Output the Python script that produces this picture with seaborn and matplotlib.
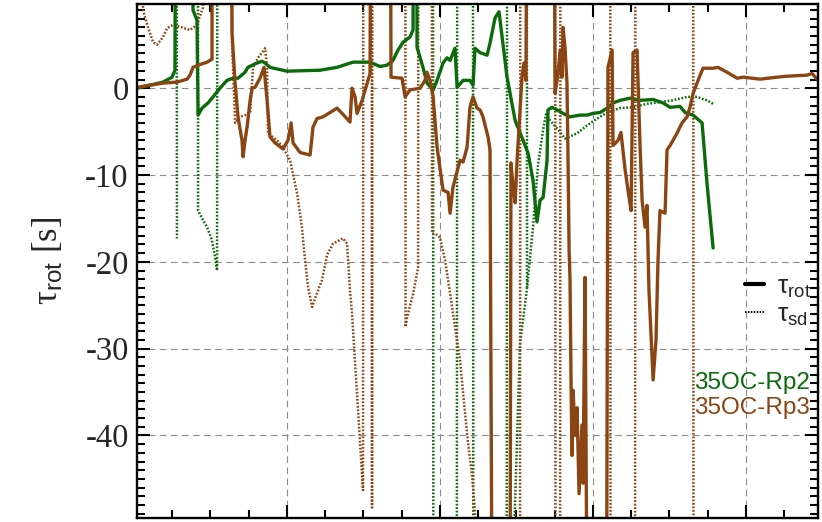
import numpy as np
import pandas as pd
import matplotlib
matplotlib.use("Agg")
import matplotlib.pyplot as plt
from matplotlib.lines import Line2D
from matplotlib.ticker import MultipleLocator
import seaborn as sns

nan = np.nan

# (time, tau [s]); +-60 marks a branch running off scale,
# (nan, nan) breaks the line
rp2_rot = [
    (0.000, 0.0), (0.085, 0.35), (0.170, 0.7), (0.229, 1.27), (0.248, 2.07),
    (0.258, 60), (0.340, 60), (0.366, 9.0), (0.392, 7.8), (0.399, -3.1),
    (0.425, -2.3), (0.464, -1.7), (0.497, -1.0), (0.542, 0.0), (0.588, 0.9),
    (0.627, 1.15), (0.660, 1.15), (0.706, 1.84), (0.725, 2.4), (0.784, 2.9),
    (0.817, 3.1), (0.837, 2.9), (0.869, 2.4), (0.980, 1.96), (1.196, 2.07),
    (1.307, 2.4), (1.412, 3.0), (1.523, 3.0), (1.588, 2.5), (1.634, 2.65),
    (1.673, 3.2), (1.706, 4.4), (1.739, 5.3), (1.784, 5.9), (1.804, 6.7),
    (1.812, 60), (1.824, 60), (1.830, 4.7), (1.869, 2.4), (1.895, 0.6),
    (1.935, -0.2), (1.961, 0.9), (2.000, 2.9), (2.026, 3.5), (2.046, 3.2),
    (2.078, 4.6), (2.092, 0.1), (2.131, 0.9), (2.176, 0.9), (2.196, 0.35),
    (2.209, 4.6), (2.242, 4.1), (2.288, 3.8), (2.307, 5.2), (2.340, 8.1),
    (2.366, 8.8), (2.386, 5.9), (2.418, 1.3), (2.471, -3.7), (2.523, -6.0),
    (2.556, -7.5), (2.588, -10.6), (2.614, -15.4), (2.634, -12.9), (2.654, -12.6),
    (2.680, -8.3), (2.686, -2.5), (2.712, -2.2), (2.745, -2.5), (2.784, -2.9),
    (2.830, -3.3), (2.895, -3.1), (2.941, -3.1), (2.980, -2.9), (3.026, -2.8),
    (3.072, -2.3), (3.111, -1.7), (3.157, -1.4), (3.222, -1.15), (3.288, -1.4),
    (3.373, -1.3), (3.438, -1.7), (3.484, -2.2), (3.549, -2.1), (3.582, -2.8),
    (3.634, -3.1), (3.693, -4.0), (3.725, -10.9), (3.765, -18.4),
]

rp2_sd = [
    (0.258, 60), (0.261, -17.3), (nan, nan),
    (0.397, 60), (0.399, -14.1), (0.425, -15.0), (0.458, -16.0), (0.490, -17.5),
    (0.510, -19.5), (0.523, -21.0), (0.526, 60), (nan, nan),
    (1.933, 60), (1.937, -60), (2.090, -60), (2.094, 60), (2.194, 60),
    (2.198, -60), (2.416, -60), (2.420, 60), (nan, nan),
    (2.547, 60), (2.549, -23.0), (nan, nan),
    (2.458, -55), (2.503, -29.5), (2.549, -23.0), (2.588, -16.0), (2.621, -8.8),
    (2.654, -4.8), (2.673, -3.0), (2.699, -3.7), (2.739, -4.5), (2.797, -5.8),
    (2.876, -5.2), (2.941, -4.3), (3.007, -3.5), (3.072, -2.8), (3.157, -2.3),
    (3.242, -2.2), (3.333, -1.8), (3.418, -1.6), (3.503, -1.4), (3.595, -1.0),
    (3.660, -1.0), (3.725, -1.4), (3.765, -1.8),
]

rp3_rot = [
    (0.000, 0.1), (0.085, 0.35), (0.170, 0.58), (0.261, 0.7), (0.327, 1.04),
    (0.346, 1.5), (0.366, 2.4), (0.399, 2.65), (0.458, 3.0), (0.490, 3.35),
    (0.493, 60), (0.605, 60), (0.621, 6.3), (0.641, 0.6), (0.660, -3.3),
    (0.686, -6.0), (0.693, -7.9), (0.706, -6.0), (0.719, -4.5), (0.739, -1.4),
    (0.752, 0.0), (0.771, 0.1), (0.804, 1.15), (0.830, 2.4), (0.850, -1.4),
    (0.869, -5.6), (0.902, -6.3), (0.954, -7.0), (0.987, -6.0), (1.007, -4.0),
    (1.020, -6.3), (1.065, -7.4), (1.131, -7.7), (1.150, -4.5), (1.176, -3.5),
    (1.216, -3.3), (1.261, -2.8), (1.307, -2.3), (1.340, -2.9), (1.392, -3.9),
    (1.405, 0.0), (1.425, -1.0), (1.438, -2.9), (1.471, -1.4), (1.523, 1.7),
    (1.533, 60), (1.650, 60), (1.660, 1.27), (1.732, 1.15), (1.752, -1.0),
    (1.784, -0.2), (1.850, 0.0), (1.882, 0.9), (1.895, 1.84), (1.915, 0.9),
    (1.935, -1.0), (1.961, -6.8), (2.000, -11.75), (2.033, -12.0), (2.046, -14.4),
    (2.065, -11.4), (2.111, -8.3), (2.131, -8.5), (2.157, -6.8), (2.176, -2.2),
    (2.196, -1.0), (2.222, -2.3), (2.242, -2.5), (2.261, -3.3), (2.294, -5.6),
    (2.307, -7.1), (2.320, -60), (2.438, -60), (2.444, -8.6), (2.458, -11.4),
    (2.471, -13.2), (2.484, -8.3), (2.503, -2.5), (2.516, 1.27), (2.529, 2.9),
    (2.542, 0.9), (2.556, 60), (2.719, 60), (2.732, -0.6), (2.752, 1.7),
    (2.765, 4.4), (2.778, 1.27), (2.784, 7.0), (2.797, 4.7), (2.810, 0.6),
    (2.817, -8.3), (2.824, -18.7), (2.830, -22.1), (2.837, -34.4), (2.843, -42.3),
    (2.850, -34.8), (2.863, -40.0), (2.876, -36.8), (2.889, -46.7), (2.908, -38.8),
    (2.915, -45.5), (2.928, -21.8), (2.941, -60), (3.069, -60), (3.078, 2.4),
    (3.105, 4.4), (3.111, -6.6), (3.144, -6.0), (3.163, -5.1), (3.190, -9.4),
    (3.209, -11.75), (3.229, -14.1), (3.242, 4.1), (3.268, 4.4), (3.288, -6.8),
    (3.301, -12.9), (3.320, -16.0), (3.333, -13.5), (3.346, -23.3), (3.373, -33.6),
    (3.392, -29.0), (3.405, -19.8), (3.418, -14.1), (3.451, -14.4), (3.464, -7.1),
    (3.484, -6.6), (3.529, -5.2), (3.562, -4.0), (3.595, -3.3), (3.614, -2.2),
    (3.634, -0.6), (3.667, 0.9), (3.699, 2.3), (3.765, 2.3), (3.797, 2.4),
    (3.856, 1.84), (3.922, 1.15), (3.961, 1.27), (4.072, 1.04), (4.183, 1.27),
    (4.248, 1.38), (4.379, 1.5), (4.412, 1.7), (4.451, 0.9),
]

rp3_sd = [
    (0.020, 60), (0.039, 9.0), (0.072, 7.0), (0.105, 5.3), (0.131, 5.0),
    (0.170, 5.9), (0.196, 6.9), (0.235, 7.3), (0.294, 7.0), (0.346, 6.7),
    (0.392, 7.3), (0.431, 9.3), (0.444, 60), (0.614, 60), (0.621, 5.2),
    (0.641, -4.0), (0.673, -3.3), (0.739, -2.9), (0.758, 2.4), (0.791, 3.5),
    (0.837, 4.6), (0.850, 2.4), (0.856, -5.2), (0.915, -6.0), (0.954, -6.8),
    (1.000, -8.3), (1.046, -12.1), (1.078, -16.0), (1.098, -19.8), (1.118, -22.9),
    (1.144, -25.2), (1.176, -23.6), (1.209, -22.1), (1.242, -19.2), (1.281, -17.9),
    (1.346, -17.3), (1.373, -17.9), (1.392, -23.3), (1.405, -25.9), (1.477, -46.3),
    (1.480, 60), (1.533, 60), (1.536, -48.3), (1.539, 60), (1.752, 60),
    (1.755, -27.5), (1.765, -26.4), (1.804, -23.7), (1.837, -20.7), (1.840, 60),
    (1.925, 60), (1.928, -16.7), (1.961, -16.9), (1.980, -17.2), (2.013, -19.8),
    (2.046, -23.6), (2.078, -27.5), (2.111, -31.3), (2.131, -35.1), (2.163, -40.8),
    (2.190, -44.7), (2.209, -48.9), (2.216, -60), (2.503, -60), (2.506, 60),
    (2.732, 60), (2.735, -60), (2.765, -60), (2.768, 60), (3.092, 60),
    (3.095, -60), (3.255, -60), (3.258, 60), (3.634, 60), (3.637, -60),
]

runs = ["35OC-Rp2", "35OC-Rp3"]
colors = {"35OC-Rp2": "#0b6b0b", "35OC-Rp3": "#8b4513"}
legend_labels = [r"τ$_{\rm rot}$", r"τ$_{\rm sd}$"]


def to_frame(pairs, run, kind):
    df = pd.DataFrame(pairs, columns=["t", "tau"])
    df["seg"] = df["tau"].isna().cumsum()
    df = df.dropna().copy()
    df["run"] = run
    df["kind"] = kind
    return df


sns.set_style("ticks")
plt.rcParams["font.family"] = ["Liberation Serif", "DejaVu Serif"]
plt.rcParams["axes.unicode_minus"] = False
plt.rcParams["mathtext.fontset"] = "custom"
plt.rcParams["mathtext.rm"] = "Liberation Sans"
plt.rcParams["mathtext.it"] = "Liberation Sans:italic"

fig = plt.figure(figsize=(8.22, 5.22), dpi=100)
ax = fig.add_axes([0.1667, 0.0077, 0.8285, 0.9847])

series = [
    (rp2_sd, runs[0], "sd"),
    (rp3_sd, runs[1], "sd"),
    (rp2_rot, runs[0], "rot"),
    (rp3_rot, runs[1], "rot"),
]
for pairs, run, kind in series:
    df = to_frame(pairs, run, kind)
    if kind == "rot":
        style = dict(lw=2.4)
    else:
        style = dict(lw=1.8, linestyle=(0, (0.7, 0.7)))
    sns.lineplot(data=df, x="t", y="tau", units="seg", estimator=None,
                 sort=False, color=colors[run], ax=ax, **style)

ax.set_xlim(0, 4.451)
ax.set_ylim(-49.5, 9.7)
ax.xaxis.set_major_locator(MultipleLocator(1.0, offset=-0.02))
ax.xaxis.set_minor_locator(MultipleLocator(0.25, offset=-0.02))
ax.yaxis.set_major_locator(MultipleLocator(10))
ax.yaxis.set_minor_locator(MultipleLocator(1))
ax.tick_params(which="both", direction="in", top=True, right=True,
               width=1.5, labelbottom=False, color="black")
ax.tick_params(which="major", length=9.5)
ax.tick_params(which="minor", length=5.5)
ax.tick_params(axis="y", labelsize=23.5, pad=6)
ax.grid(which="major", color="0.55", linestyle=(0, (6, 4)), lw=0.8)
for s in ax.spines.values():
    s.set_linewidth(1.7)
    s.set_color("black")

ax.set_xlabel("")
ax.set_ylabel(r"τ$_{\rm rot}$ [s]", fontsize=25)
ax.yaxis.set_label_coords(-0.105, 0.5)

handles = [Line2D([], [], color="black", lw=3),
           Line2D([], [], color="black", lw=1.5, linestyle=(0, (0.7, 0.7)))]
ax.legend(handles, legend_labels, loc="center right",
          bbox_to_anchor=(0.99, 0.422), frameon=False, handlelength=0.7,
          handletextpad=0.5, labelspacing=0.1, borderpad=0, borderaxespad=0,
          prop={"family": "Liberation Sans", "size": 19})

ax.text(0.988, 0.263, runs[0], transform=ax.transAxes, ha="right", va="center",
        color=colors[runs[0]], fontsize=17.5, family="Liberation Sans")
ax.text(0.988, 0.214, runs[1], transform=ax.transAxes, ha="right", va="center",
        color=colors[runs[1]], fontsize=17.5, family="Liberation Sans")

fig.savefig("out.png", dpi=100)
